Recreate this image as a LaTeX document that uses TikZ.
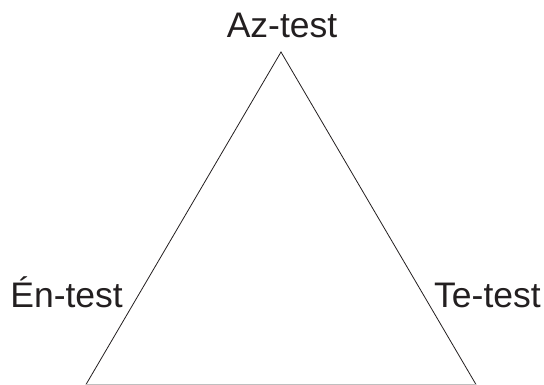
\documentclass[tikz,border=0pt]{standalone}
\usepackage{fontspec}
\setmainfont{Liberation Sans}
\definecolor{ink}{HTML}{231F20}
\tikzset{
  label/.style={inner sep=0pt, text=ink, font=\fontsize{35.5}{42}\selectfont},
  edge/.style={line width=0.8pt, ink}
}
\begin{document}
\begin{tikzpicture}[x=1pt,y=-1pt]
                \useasboundingbox (0,0) rectangle (544,385);
                \coordinate (top) at (281,52) ;
                \coordinate (left) at (86,384.5) ;
                \coordinate (right) at (476,384.5) ;
                \node [label, anchor=base] (az) at (282,38) {Az-test} ;
                \node [label, anchor=base east] (en) at (123,307) {Én-test} ;
                \node [label, anchor=base west] (te) at (434,307) {Te-test} ;
                \draw [edge] (left) -- (top) -- (right) ;
                \draw [edge, black!25] (left) -- (right) ;
            \end{tikzpicture}
\end{document}
